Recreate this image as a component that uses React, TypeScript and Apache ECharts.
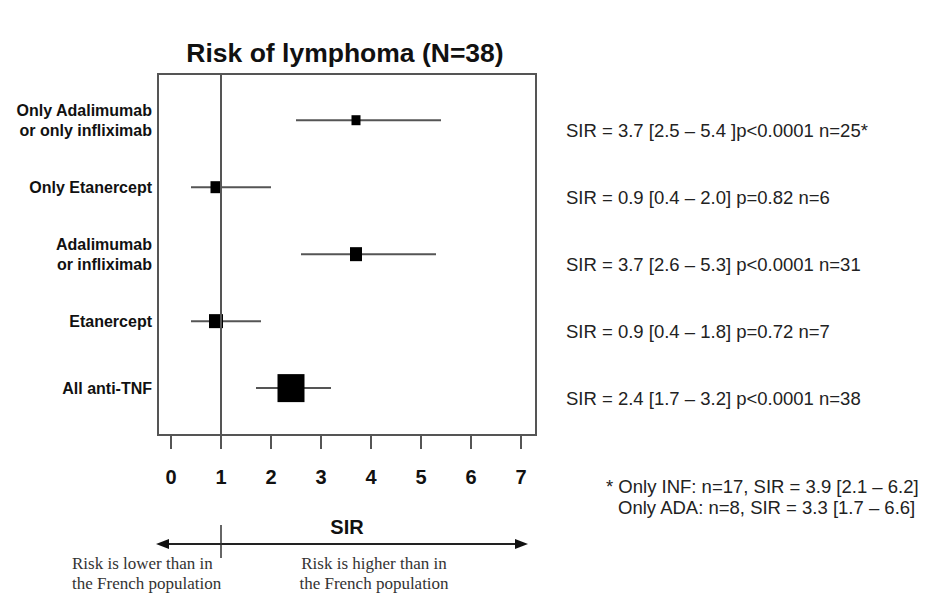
import React, { useEffect, useRef } from "react";
import * as echarts from "echarts";

const categories = [
  "Only Adalimumab\nor only infliximab",
  "Only Etanercept",
  "Adalimumab\nor infliximab",
  "Etanercept",
  "All anti-TNF",
];
const sirValues = [3.7, 0.9, 3.7, 0.9, 2.4];
const ciLow = [2.5, 0.4, 2.6, 0.4, 1.7];
const ciHigh = [5.4, 2.0, 5.3, 1.8, 3.2];
const annotations = [
  "SIR = 3.7 [2.5 – 5.4 ]p<0.0001 n=25*",
  "SIR = 0.9 [0.4 – 2.0] p=0.82 n=6",
  "SIR = 3.7 [2.6 – 5.3] p<0.0001 n=31",
  "SIR = 0.9 [0.4 – 1.8] p=0.72 n=7",
  "SIR = 2.4 [1.7 – 3.2] p<0.0001 n=38",
];
const xTicks = [0, 1, 2, 3, 4, 5, 6, 7];
const footnotes = [
  "* Only INF: n=17, SIR = 3.9 [2.1 – 6.2]",
  "Only ADA: n=8, SIR = 3.3 [1.7 – 6.6]",
];
const lowerText = "Risk is lower than in\nthe French population";
const higherText = "Risk is higher than in\nthe French population";

// marker box sizes (style, px)
const boxW = [9, 11, 12, 14, 27];
const boxH = [10, 12, 14, 14, 28];

const X_MIN = -0.26;
const X_MAX = 7.3;
const SANS = "'Liberation Sans', Arial, Helvetica, sans-serif";
const SERIF = "'Liberation Serif', 'Times New Roman', serif";

export default function App() {
  const ref = useRef<HTMLDivElement>(null);
  useEffect(() => {
    if (!ref.current) return;
    const chart = echarts.init(ref.current, null, { renderer: "svg" });
    const data = sirValues.map((v, i) => [i, v, ciLow[i], ciHigh[i]]);
    chart.setOption({
      animation: false,
      backgroundColor: "#ffffff",
      grid: {
        left: 158,
        top: 74,
        width: 378,
        height: 361,
        show: true,
        borderColor: "#555",
        borderWidth: 2,
        containLabel: false,
      },
      xAxis: {
        type: "value",
        position: "bottom",
        min: X_MIN,
        max: X_MAX,
        name: "SIR",
        nameLocation: "middle",
        nameGap: 82,
        nameTextStyle: { fontFamily: SANS, fontWeight: "bold", fontSize: 20, color: "#111" },
        axisLine: { show: false, onZero: false },
        splitLine: { show: false },
        axisTick: {
          show: true,
          customValues: xTicks,
          length: 14,
          lineStyle: { color: "#555", width: 2 },
        },
        axisLabel: {
          customValues: xTicks,
          margin: 32,
          fontFamily: SANS,
          fontWeight: "bold",
          fontSize: 20,
          color: "#111",
        },
      },
      yAxis: {
        type: "value",
        inverse: true,
        min: -0.69,
        max: 4.7,
        axisLine: { show: false, onZero: false },
        axisTick: { show: false },
        splitLine: { show: false },
        axisLabel: {
          customValues: [0, 1, 2, 3, 4],
          formatter: (v: number) => categories[Math.round(v)] ?? "",
          margin: 6,
          fontFamily: SANS,
          fontWeight: "bold",
          fontSize: 16,
          lineHeight: 20,
          color: "#111",
          align: "right",
        },
      },
      series: [
        {
          type: "custom",
          clip: false,
          data,
          encode: { x: [1, 2, 3], y: 0 },
          renderItem: (params: any, api: any) => {
            const idx = params.dataIndex;
            const i = api.value(0);
            const c = api.coord([api.value(1), i]);
            const l = api.coord([api.value(2), i]);
            const h = api.coord([api.value(3), i]);
            const r = api.coord([X_MAX, i]);
            const w = boxW[idx];
            const hh = boxH[idx];
            return {
              type: "group",
              children: [
                {
                  type: "line",
                  shape: { x1: l[0], y1: l[1], x2: h[0], y2: h[1] },
                  style: { stroke: "#555", lineWidth: 2 },
                },
                {
                  type: "rect",
                  shape: { x: c[0] - w / 2, y: c[1] - hh / 2, width: w, height: hh },
                  style: { fill: "#000" },
                },
                {
                  type: "text",
                  x: r[0] + 30,
                  y: c[1] + 10,
                  style: {
                    text: annotations[idx],
                    fill: "#222",
                    fontFamily: SANS,
                    fontSize: 18.5,
                    align: "left",
                    verticalAlign: "middle",
                  },
                },
              ],
            };
          },
          markLine: {
            silent: true,
            symbol: "none",
            label: { show: false },
            lineStyle: { color: "#555", width: 2, type: "solid" },
            data: [{ xAxis: 1 }],
          },
        },
      ],
    });

    const x1 = chart.convertToPixel({ xAxisIndex: 0 }, 1) as number;
    const arrowY = 544;
    const leftTip = 156;
    const rightTip = 528;
    chart.setOption({
      graphic: [
        {
          type: "text",
          x: 345,
          y: 53,
          style: {
            text: "Risk of lymphoma (N=38)",
            fontFamily: SANS,
            fontWeight: "bold",
            fontSize: 26.5,
            fill: "#111",
            align: "center",
            verticalAlign: "middle",
          },
        },
        {
          type: "line",
          shape: { x1: leftTip + 8, y1: arrowY, x2: rightTip - 8, y2: arrowY },
          style: { stroke: "#222", lineWidth: 2 },
        },
        {
          type: "polygon",
          shape: { points: [[leftTip, arrowY], [leftTip + 13, arrowY - 5], [leftTip + 13, arrowY + 5]] },
          style: { fill: "#111" },
        },
        {
          type: "polygon",
          shape: { points: [[rightTip, arrowY], [rightTip - 13, arrowY - 5], [rightTip - 13, arrowY + 5]] },
          style: { fill: "#111" },
        },
        {
          type: "line",
          shape: { x1: x1, y1: 525, x2: x1, y2: 558 },
          style: { stroke: "#333", lineWidth: 1.5 },
        },
        {
          type: "text",
          x: 72,
          y: 553,
          style: {
            text: lowerText,
            fontFamily: SERIF,
            fontSize: 17,
            lineHeight: 20,
            fill: "#333",
            align: "left",
            verticalAlign: "top",
          },
        },
        {
          type: "text",
          x: 374,
          y: 553,
          style: {
            text: higherText,
            fontFamily: SERIF,
            fontSize: 17,
            lineHeight: 20,
            fill: "#333",
            align: "center",
            verticalAlign: "top",
          },
        },
        {
          type: "text",
          x: 606,
          y: 486,
          style: {
            text: footnotes[0],
            fontFamily: SANS,
            fontSize: 18.5,
            fill: "#222",
            align: "left",
            verticalAlign: "middle",
          },
        },
        {
          type: "text",
          x: 618,
          y: 507,
          style: {
            text: footnotes[1],
            fontFamily: SANS,
            fontSize: 18.5,
            fill: "#222",
            align: "left",
            verticalAlign: "middle",
          },
        },
      ],
    });

    return () => chart.dispose();
  }, []);

  return (
    <div
      ref={ref}
      style={{ position: "fixed", left: 0, top: 0, width: 936, height: 613, background: "#fff" }}
    />
  );
}
